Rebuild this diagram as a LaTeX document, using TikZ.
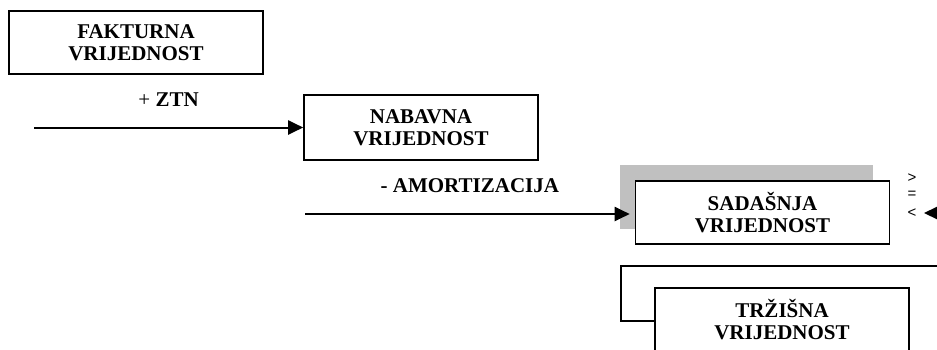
\documentclass[tikz,border=0pt]{standalone}
\usepackage{fontspec}
\setmainfont{Liberation Serif}
\setsansfont{Liberation Sans}
\usetikzlibrary{positioning,arrows.meta}
\definecolor{shadowGray}{RGB}{192,192,192}

\tikzset{
  valbox/.style={draw, line width=0.8pt, fill=white, minimum width=127pt, minimum height=31.5pt,
    inner sep=0pt, align=center, font=\fontsize{10.5}{11}\selectfont\bfseries},
  flow/.style={line width=1pt, -{Triangle[length=7.5pt,width=7pt]}},
  flowlabel/.style={font=\fontsize{10.5}{11}\selectfont, inner sep=0pt},
  relsign/.style={font=\sffamily\fontsize{7.5}{9}\selectfont, inner sep=0pt}
}

\begin{document}
\begin{tikzpicture}[x=0.5pt, y=-0.5pt]
        \useasboundingbox (0,0) rectangle (937,349);
        \clip (0,0) rectangle (937,349);
        %\draw[step=50, gray, very thin] (0,0) grid (937,349);
        \node[valbox] (fakturna) at (136,42.5) {FAKTURNA\\VRIJEDNOST};
        \node[valbox, minimum width=117pt, minimum height=32.5pt] (nabavna) at (421,127.5) {NABAVNA\\VRIJEDNOST};
        \fill[shadowGray] (620,165) rectangle (873,229);
        \node[valbox] (sadasnja) at (762.5,212.5) {SADAŠNJA\\VRIJEDNOST};
        \node[valbox] (trzisna) at (782,319.5) {TRŽIŠNA\\VRIJEDNOST};
        % ulazne strelice
        \coordinate (ztnStart) at (34,127.5);
        \draw[flow] (ztnStart) -- (nabavna.west) node[flowlabel, midway, above=10pt] {+ \textbf{ZTN}};
        \coordinate (amStart) at (305,214);
        \draw[flow, shorten >=2.5pt] (amStart) -- (sadasnja.west |- amStart) node[flowlabel, midway, above=10pt] {\textbf{- AMORTIZACIJA}};
        % usporedba
        \node[relsign] (gt) at (912,178) {>};
        \node[relsign] (eq) at (912,195) {=};
        \node[relsign] (lt) at (912,213) {<};
        \coordinate (cmpEnd) at (950,213);
        \draw[flow] (cmpEnd) -- ([xshift=-0.5pt]lt.east -| 925,0) ;
        \coordinate (loopStart) at (950,266);
        \draw[line width=0.8pt] (loopStart) -- (621,266) -- (621,321) -- (trzisna.west |- 0,321);
\end{tikzpicture}
\end{document}
